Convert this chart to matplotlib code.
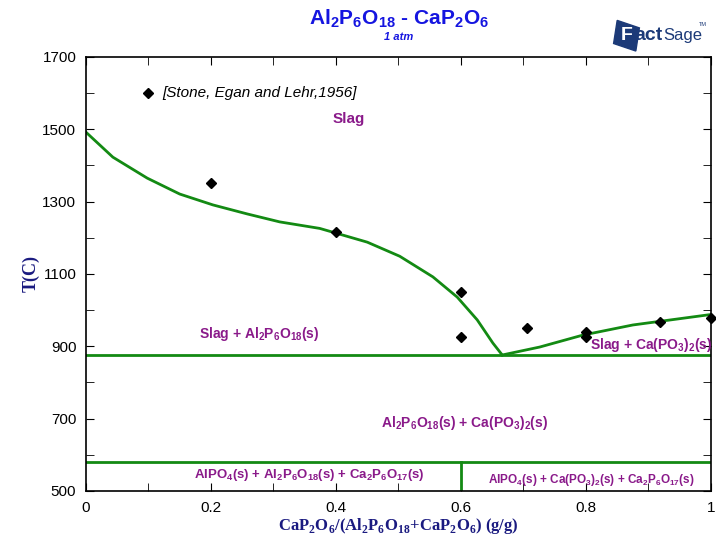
import numpy as np
import matplotlib.pyplot as plt
from matplotlib.ticker import MultipleLocator
from matplotlib.patches import Polygon

plt.rcParams['font.family'] = 'Liberation Sans'
plt.rcParams['mathtext.fontset'] = 'custom'
plt.rcParams['mathtext.rm'] = 'Liberation Sans:bold'
plt.rcParams['mathtext.bf'] = 'Liberation Serif:bold'

# Computed liquidus, Al2P6O18 side
liq_left_x = [0.0, 0.043, 0.098, 0.150, 0.203, 0.258, 0.310, 0.374, 0.450,
              0.502, 0.555, 0.594, 0.626, 0.651, 0.666]
liq_left_T = [1492, 1423, 1365, 1321, 1291, 1266, 1244, 1226, 1188,
              1149, 1092, 1036, 973, 909, 876]
# Computed liquidus, Ca(PO3)2 side
liq_right_x = [0.666, 0.726, 0.795, 0.875, 1.0]
liq_right_T = [876, 898, 931, 959, 988]

# Invariant lines
T_eutectic = 876
T_solidus = 580
x_split = 0.6

# Experimental points
exp_x = [0.2, 0.4, 0.6, 0.6, 0.706, 0.8, 0.8, 0.918, 1.0]
exp_T = [1351, 1217, 1050, 926, 951, 940, 926, 967, 978]

x_ticks = [0, 0.2, 0.4, 0.6, 0.8, 1.0]
x_ticklabels = ['0', '0.2', '0.4', '0.6', '0.8', '1']
y_ticks = [500, 700, 900, 1100, 1300, 1500, 1700]

purple = '#8a1a8a'
green = '#138a13'
navy = '#1a1a80'
logo_blue = '#1c3a78'

fig = plt.figure(figsize=(7.16, 5.37), dpi=100)
ax = fig.add_axes([0.1201, 0.0857, 0.8729, 0.8082])

ax.plot(liq_left_x, liq_left_T, color=green, lw=2)
ax.plot(liq_right_x, liq_right_T, color=green, lw=2)
ax.plot([0, 1], [T_eutectic, T_eutectic], color=green, lw=2)
ax.plot([0, 1], [T_solidus, T_solidus], color=green, lw=2)
ax.plot([x_split, x_split], [500, T_solidus], color=green, lw=2)

ax.plot(exp_x, exp_T, 'D', color='black', ms=5, ls='none', clip_on=False)

# legend entry for the data source
ax.plot([0.099], [1600], 'D', color='black', ms=5)
ax.text(0.122, 1600, '[Stone, Egan and Lehr,1956]', fontsize=11, style='italic',
        va='center', ha='left')

ax.set_xlim(0, 1)
ax.set_ylim(500, 1700)
ax.set_xticks(x_ticks)
ax.set_xticklabels(x_ticklabels)
ax.xaxis.set_minor_locator(MultipleLocator(0.1))
ax.set_yticks(y_ticks)
ax.yaxis.set_minor_locator(MultipleLocator(100))
ax.tick_params(which='both', direction='in', top=True, right=True, labelsize=11,
               length=6, pad=7)
for s in ax.spines.values():
    s.set_linewidth(1.2)

# phase field labels
ax.text(0.42, 1518, 'Slag', color=purple, fontsize=11, fontweight='bold', ha='center')
ax.text(0.277, 935, r'Slag + Al$_2$P$_6$O$_{18}$(s)', color=purple, fontsize=10,
        fontweight='bold', ha='center', va='center')
ax.text(0.904, 880, r'Slag + Ca(PO$_3$)$_2$(s)', color=purple, fontsize=10,
        fontweight='bold', ha='center', va='bottom')
ax.text(0.605, 687, r'Al$_2$P$_6$O$_{18}$(s) + Ca(PO$_3$)$_2$(s)', color=purple,
        fontsize=10, fontweight='bold', ha='center', va='center')
ax.text(0.358, 544, r'AlPO$_4$(s) + Al$_2$P$_6$O$_{18}$(s) + Ca$_2$P$_6$O$_{17}$(s)',
        color=purple, fontsize=9.5, fontweight='bold', ha='center', va='center')
ax.text(0.809, 530, r'AlPO$_4$(s) + Ca(PO$_3$)$_2$(s) + Ca$_2$P$_6$O$_{17}$(s)',
        color=purple, fontsize=8.5, fontweight='bold', ha='center', va='center')

ax.set_xlabel(r'CaP$_{\mathbf{2}}$O$_{\mathbf{6}}$/(Al$_{\mathbf{2}}$P$_{\mathbf{6}}$O$_{\mathbf{18}}$'
              r'+CaP$_{\mathbf{2}}$O$_{\mathbf{6}}$) (g/g)',
              family='Liberation Serif', fontweight='bold', fontsize=12, color=navy, labelpad=1)
ax.set_ylabel('T(C)', family='Liberation Serif', fontweight='bold', fontsize=13,
              color=navy, labelpad=2)

# title
fig.text(0.557, 0.966, r'Al$_2$P$_6$O$_{18}$ - CaP$_2$O$_6$', color='#1515e0',
         fontsize=15, fontweight='bold', ha='center', va='center')
fig.text(0.557, 0.932, '1 atm', color='#1515e0', fontsize=8, fontweight='bold',
         style='italic', ha='center', va='center')

# FactSage mark
logo = Polygon([(0.862, 0.962), (0.893, 0.948), (0.888, 0.905), (0.857, 0.919)],
               closed=True, transform=fig.transFigure, color=logo_blue)
fig.patches.append(logo)
fig.text(0.867, 0.934, 'F', color='white', fontsize=14, fontweight='bold',
         ha='left', va='center')
fig.text(0.886, 0.934, 'act', color=logo_blue, fontsize=14, fontweight='bold',
         ha='left', va='center')
fig.text(0.927, 0.934, 'Sage', color=logo_blue, fontsize=12, ha='left', va='center')
fig.text(0.987, 0.955, 'TM', color=logo_blue, fontsize=4, ha='right', va='center')

fig.savefig('out.png', dpi=100)
